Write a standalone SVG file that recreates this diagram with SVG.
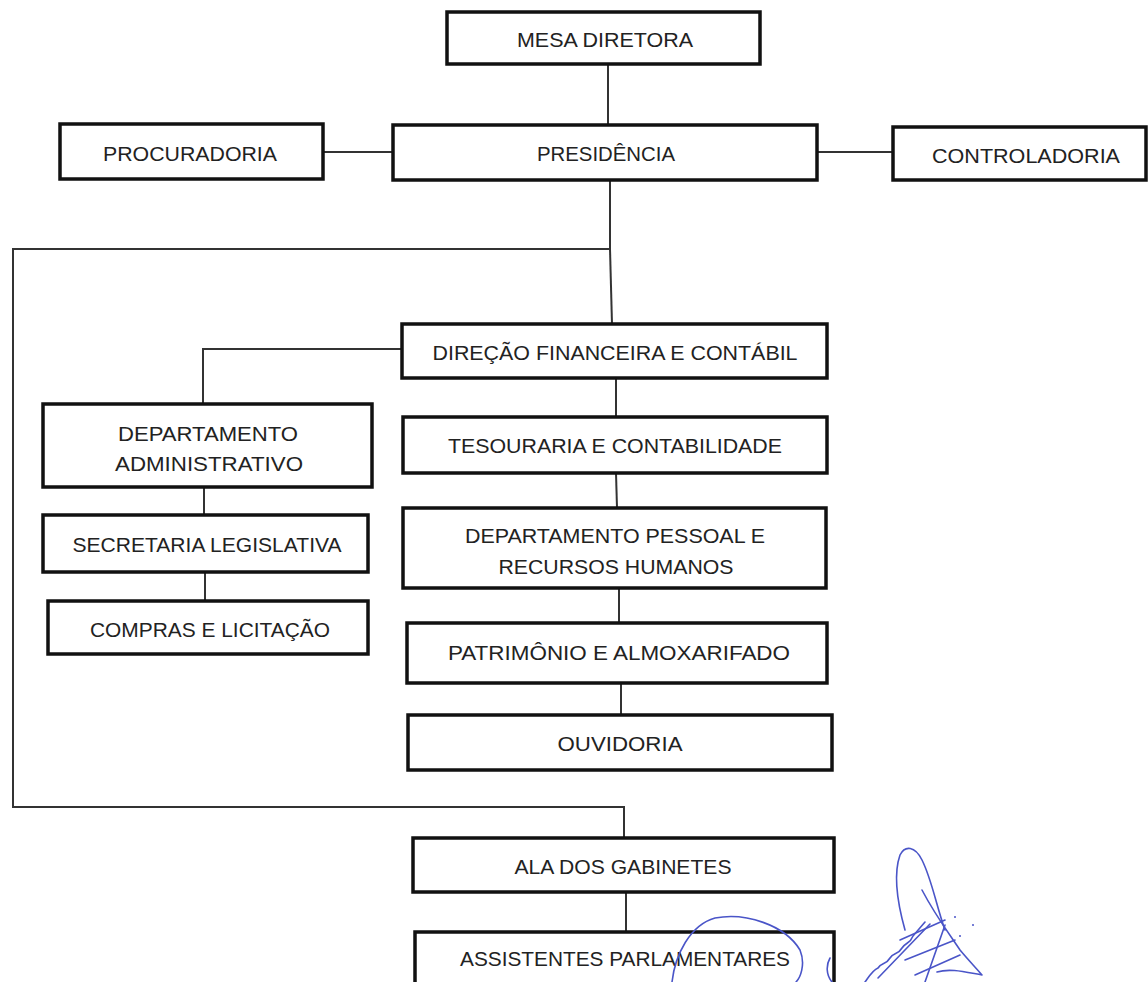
<svg xmlns="http://www.w3.org/2000/svg" width="1148" height="982" viewBox="0 0 1148 982">
<style>
.box{fill:#fff;stroke:#111;stroke-width:3.5}
.t{font-family:"Liberation Sans",Arial,sans-serif;font-size:21px;fill:#222;text-anchor:middle;dominant-baseline:central}
.c{fill:none;stroke:#333;stroke-width:2}
.sig{fill:none;stroke:#4a55c8;stroke-width:1.6;stroke-linecap:round;stroke-linejoin:round}
</style>
<rect width="1148" height="982" fill="#fff"/>
<g id="connectors">
<line class="c" x1="608" y1="64" x2="608" y2="125"/>
<line class="c" x1="323" y1="152" x2="393" y2="152"/>
<line class="c" x1="817" y1="152" x2="893" y2="152"/>
<polyline class="c" points="610,180 610,249 13,249 13,807 624,807 624,838"/>
<line class="c" x1="610" y1="249" x2="612" y2="324"/>
<polyline class="c" points="402,349 203,349 203,404"/>
<line class="c" x1="204" y1="487" x2="204" y2="515"/>
<line class="c" x1="205" y1="572" x2="205" y2="601"/>
<line class="c" x1="616" y1="378" x2="616" y2="417"/>
<line class="c" x1="616" y1="473" x2="617" y2="508"/>
<line class="c" x1="619" y1="588" x2="619" y2="623"/>
<line class="c" x1="621" y1="683" x2="621" y2="715"/>
<line class="c" x1="626" y1="892" x2="626" y2="932"/>
</g>
<g id="mesa"><rect class="box" x="447" y="12" width="313" height="52"/><text class="t" x="605" y="39" textLength="176" lengthAdjust="spacingAndGlyphs">MESA DIRETORA</text></g>
<g id="presidencia"><rect class="box" x="393" y="125" width="424" height="55"/><text class="t" x="606" y="153" textLength="138" lengthAdjust="spacingAndGlyphs">PRESIDÊNCIA</text></g>
<g id="procuradoria"><rect class="box" x="60" y="124" width="263" height="55"/><text class="t" x="190" y="153" textLength="174" lengthAdjust="spacingAndGlyphs">PROCURADORIA</text></g>
<g id="controladoria"><rect class="box" x="893" y="127" width="253" height="53"/><text class="t" x="1026" y="155" textLength="188" lengthAdjust="spacingAndGlyphs">CONTROLADORIA</text></g>
<g id="direcao"><rect class="box" x="402" y="324" width="425" height="54"/><text class="t" x="615" y="352" textLength="365" lengthAdjust="spacingAndGlyphs">DIREÇÃO FINANCEIRA E CONTÁBIL</text></g>
<g id="depto-adm"><rect class="box" x="43" y="404" width="329" height="83"/><text class="t" x="208" y="433" textLength="180" lengthAdjust="spacingAndGlyphs">DEPARTAMENTO</text><text class="t" x="209" y="463" textLength="188" lengthAdjust="spacingAndGlyphs">ADMINISTRATIVO</text></g>
<g id="secretaria"><rect class="box" x="43" y="515" width="325" height="57"/><text class="t" x="207" y="544" textLength="269" lengthAdjust="spacingAndGlyphs">SECRETARIA LEGISLATIVA</text></g>
<g id="compras"><rect class="box" x="48" y="601" width="320" height="53"/><text class="t" x="210" y="629" textLength="240" lengthAdjust="spacingAndGlyphs">COMPRAS E LICITAÇÃO</text></g>
<g id="tesouraria"><rect class="box" x="403" y="417" width="424" height="56"/><text class="t" x="615" y="445" textLength="334" lengthAdjust="spacingAndGlyphs">TESOURARIA E CONTABILIDADE</text></g>
<g id="depto-pessoal"><rect class="box" x="403" y="508" width="423" height="80"/><text class="t" x="615" y="535" textLength="300" lengthAdjust="spacingAndGlyphs">DEPARTAMENTO PESSOAL E</text><text class="t" x="616" y="566" textLength="235" lengthAdjust="spacingAndGlyphs">RECURSOS HUMANOS</text></g>
<g id="patrimonio"><rect class="box" x="407" y="623" width="420" height="60"/><text class="t" x="619" y="652" textLength="342" lengthAdjust="spacingAndGlyphs">PATRIMÔNIO E ALMOXARIFADO</text></g>
<g id="ouvidoria"><rect class="box" x="408" y="715" width="424" height="55"/><text class="t" x="620" y="743" textLength="125" lengthAdjust="spacingAndGlyphs">OUVIDORIA</text></g>
<g id="ala"><rect class="box" x="413" y="838" width="421" height="54"/><text class="t" x="623" y="866" textLength="217" lengthAdjust="spacingAndGlyphs">ALA DOS GABINETES</text></g>
<g id="assistentes"><rect class="box" x="415" y="932" width="419" height="60"/><text class="t" x="625" y="958" textLength="330" lengthAdjust="spacingAndGlyphs">ASSISTENTES PARLAMENTARES</text></g>
<g id="signature">
<path class="sig" d="M672,982 C675,955 690,925 715,918 C745,912 785,925 800,950 C806,965 800,978 796,982"/>
<path class="sig" d="M830,958 C826,965 826,975 832,982"/>
<path class="sig" d="M905,930 C898,905 893,875 900,855 C905,845 915,846 922,860 C932,880 936,905 945,930"/>
<path class="sig" d="M865,982 C870,975 873,970 878,968 C882,962 886,965 890,958 C894,952 898,955 902,948 C906,942 910,944 913,936 L925,922"/>
<path class="sig" d="M878,978 L930,924"/>
<path class="sig" d="M922,890 C935,915 950,935 960,950 C970,962 978,970 982,975 C965,972 950,968 937,972"/>
<path class="sig" d="M900,940 L945,920 M905,960 L955,940 M915,975 L960,955"/>
<path class="sig" d="M945,925 L925,982"/>
<circle cx="955" cy="917" r="1" fill="#4a55c8"/>
<circle cx="973" cy="925" r="1" fill="#4a55c8"/>
<circle cx="960" cy="936" r="1" fill="#4a55c8"/>
</g>
</svg>
